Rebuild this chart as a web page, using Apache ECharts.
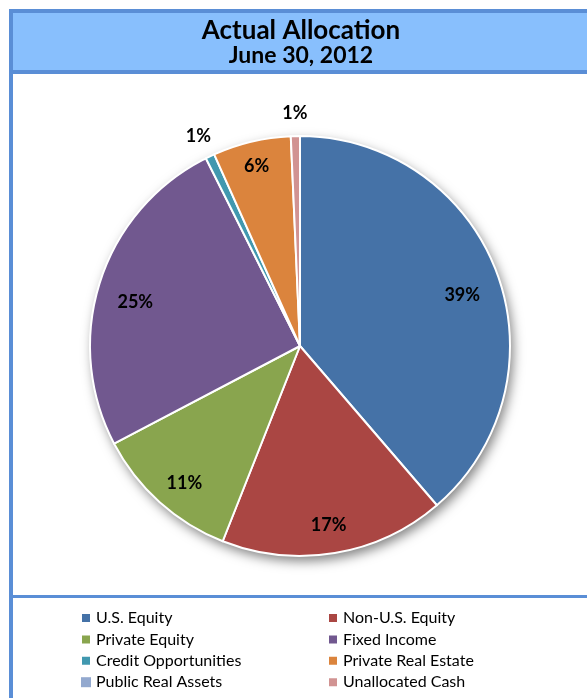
<!DOCTYPE html>
<html>
<head>
<meta charset="utf-8">
<script src="https://cdn.jsdelivr.net/npm/echarts@6/dist/echarts.min.js"></script>
<style>
html,body{margin:0;padding:0;background:#fff;}
#chart{width:587px;height:698px;}
</style>
</head>
<body>
<div id="chart"></div>
<script>
// ---- data ----
const titleText = 'Actual Allocation';
const subtitleText = 'June 30, 2012';
const categories = ['U.S. Equity', 'Non-U.S. Equity', 'Private Equity', 'Fixed Income',
  'Credit Opportunities', 'Private Real Estate', 'Public Real Assets', 'Unallocated Cash'];
const values = [38.7, 17.3, 11.3, 25.3, 0.7, 6.0, 0.0, 0.7];
const innerLabelItems = ['U.S. Equity', 'Non-U.S. Equity', 'Private Equity', 'Fixed Income'];
const rimLabelItems = ['Private Real Estate'];
const outsideLabelItems = ['Credit Opportunities', 'Unallocated Cash'];
const legendColumn1 = ['U.S. Equity', 'Private Equity', 'Credit Opportunities', 'Public Real Assets'];
const legendColumn2 = ['Non-U.S. Equity', 'Fixed Income', 'Private Real Estate', 'Unallocated Cash'];

// ---- styles ----
const colors = ['#4572A7', '#AA4643', '#89A54E', '#71588F', '#4198AF', '#DB843D', '#93A9CF', '#D19392'];
const FONT = 'Lato, "Open Sans", sans-serif';
const center = [300, 346];
const R = 210;

const chart = echarts.init(document.getElementById('chart'), null, {renderer: 'canvas'});

const mainData = categories.map((c, i) => ({
  name: c, value: values[i],
  itemStyle: {color: colors[i], borderWidth: values[i] === 0 ? 0 : 2}
}));

const labelStyle = {
  position: 'inside',
  formatter: p => Math.max(1, Math.round(p.percent)) + '%',
  fontFamily: FONT,
  fontWeight: 'bold',
  fontSize: 18,
  color: '#000'
};

// transparent helper pies that only carry the percentage labels
function labelSeries(items, c, labelRadius) {
  return {
    type: 'pie', name: 'labels', center: c, radius: [0, labelRadius * 2],
    startAngle: 90, clockwise: true, z: 5, silent: true, legendHoverLink: false,
    data: categories.map((cat, i) => ({name: cat, value: values[i], label: {show: items.indexOf(cat) >= 0}})),
    itemStyle: {color: 'rgba(0,0,0,0)', borderWidth: 0},
    label: labelStyle, labelLine: {show: false},
    emphasis: {disabled: true}
  };
}

const legendBase = {
  orient: 'vertical',
  itemWidth: 10,
  itemHeight: 10,
  itemGap: 5.4,
  icon: 'rect',
  selectedMode: false,
  textStyle: {fontFamily: FONT, fontSize: 16, color: '#000'},
  padding: 0
};

const option = {
  animation: false,
  graphic: [
    {type: 'rect', z: -10, shape: {x: 11, y: 11, width: 620, height: 61},
     style: {fill: '#88BFFD', stroke: '#5A8ED6', lineWidth: 4}},
    {type: 'line', z: -10, shape: {x1: 11, y1: 72, x2: 11, y2: 700},
     style: {stroke: '#5A8ED6', lineWidth: 4}},
    {type: 'line', z: -10, shape: {x1: 11, y1: 596.5, x2: 600, y2: 596.5},
     style: {stroke: '#5A8ED6', lineWidth: 3}}
  ],
  title: {
    text: titleText,
    subtext: subtitleText,
    left: 301,
    top: 18,
    textAlign: 'center',
    itemGap: 0,
    padding: 0,
    textStyle: {fontFamily: FONT, fontWeight: 'bold', fontSize: 26, color: '#000'},
    subtextStyle: {fontFamily: FONT, fontWeight: 'bold', fontSize: 23, color: '#000'}
  },
  legend: [
    Object.assign({}, legendBase, {left: 80, top: 610, data: legendColumn1}),
    Object.assign({}, legendBase, {left: 327, top: 610, data: legendColumn2})
  ],
  series: [
    {
      type: 'pie', name: 'Allocation', center: center, radius: [0, R],
      startAngle: 90, clockwise: true, z: 3,
      data: mainData,
      label: {show: false}, labelLine: {show: false},
      itemStyle: {borderColor: '#fff', borderWidth: 2},
      emphasis: {disabled: true}
    },
    {
      type: 'pie', name: 'shadow', center: center, radius: [0, R],
      z: 1, silent: true, legendHoverLink: false,
      data: [{name: '__bg', value: 1}],
      label: {show: false}, labelLine: {show: false},
      itemStyle: {color: '#fff', shadowBlur: 12, shadowOffsetX: 3, shadowOffsetY: 5,
                  shadowColor: 'rgba(0,0,0,0.5)'},
      emphasis: {disabled: true}
    },
    labelSeries(innerLabelItems, [300, 355], 170),
    labelSeries(rimLabelItems, [300, 349], 185),
    labelSeries(outsideLabelItems, [300, 350], 234)
  ]
};
chart.setOption(option);
</script>
</body>
</html>
